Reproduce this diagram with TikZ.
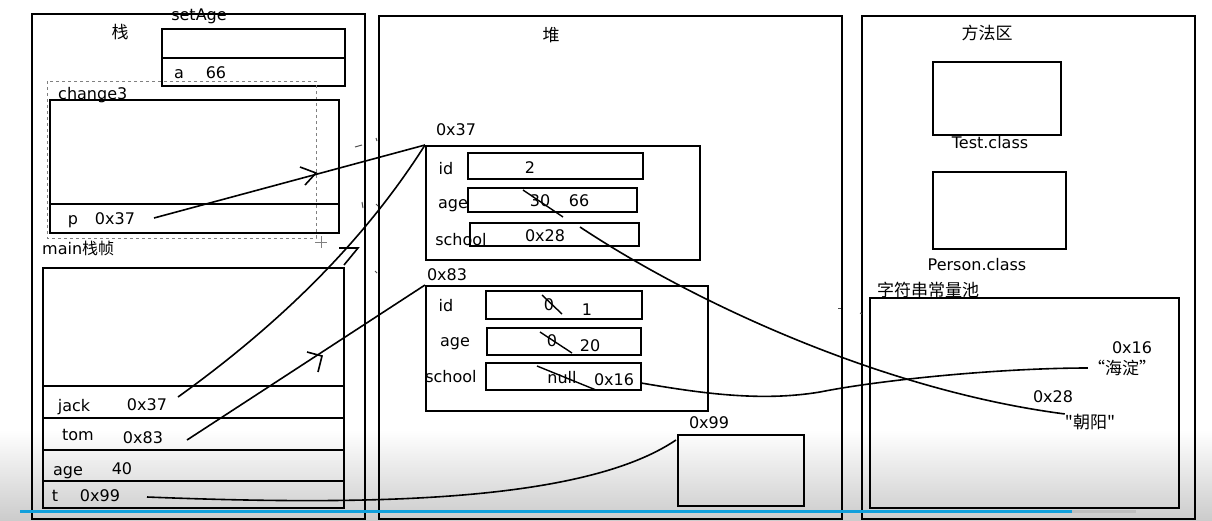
\documentclass[tikz,border=0pt]{standalone}
\usepackage{fontspec}
\setmainfont{DejaVu Sans}
\newfontfamily\cjk{Noto Sans CJK SC}
\usetikzlibrary{arrows.meta,calc}
\definecolor{progblue}{RGB}{18,160,220}
\begin{document}
\begin{tikzpicture}[x=1pt,y=-1pt,
  box/.style={draw, line width=1.8pt, inner sep=0pt, anchor=north west},
  txt/.style={inner sep=0pt, text height=11.5pt, text depth=0pt, font=\fontsize{16}{18}\selectfont},
  ctxt/.style={inner sep=0pt, font=\fontsize{17}{19}\selectfont\cjk},
  conn/.style={line width=1.6pt},
  strike/.style={line width=1.4pt},
  divider/.style={line width=1.5pt},
  tick/.style={line width=1pt, black!70}]
\useasboundingbox (0,0) rectangle (1212,520);
\shade[top color=white, bottom color=black!20] (0,430) rectangle (1212,520);

% ---- outer areas
\node[box, minimum width=333pt, minimum height=505pt] (stack) at (31,13) {};
\node[box, minimum width=463pt, minimum height=503pt] (heap) at (378,15) {};
\node[box, minimum width=333pt, minimum height=503pt] (method) at (861,15) {};

% ---- stack
\node[ctxt] (stackT) at (120,32) {栈};
\node[txt] (setAgeT) at (199,15) {setAge};
\node[box, minimum width=183pt, minimum height=57pt] (setAge) at (161,28) {};
\draw[divider] (161,58) -- (344,58);
\node[txt] (aN) at (179,73) {a};
\node[txt] (aV) at (216,73) {66};

\draw[gray, dashed, line width=0.8pt] (47,81) rectangle (316,238);
\draw[gray, line width=0.6pt] (315,242) -- (327,242) (321,236) -- (321,248);

\node[txt, anchor=west] (change3T) at (58,94) {change3};
\node[box, minimum width=289pt, minimum height=133pt] (change3) at (49,99) {};
\draw[divider] (49,204) -- (338,204);
\node[txt] (pN) at (73,219) {p};
\node[txt] (pV) at (115,219) {0x37};

\node[txt, anchor=west] (mainT) at (42,249) {main{\cjk 栈帧}};
\node[box, minimum width=301pt, minimum height=240pt] (main) at (42,267) {};
\foreach \yy in {386,418,450,481} \draw[divider] (42,\yy) -- (343,\yy);
\node[txt] (jackN) at (74,406) {jack};
\node[txt] (jackV) at (147,405) {0x37};
\node[txt] (tomN) at (78,435) {tom};
\node[txt] (tomV) at (143,438) {0x83};
\node[txt] (ageN) at (68,470) {age};
\node[txt] (ageV) at (122,469) {40};
\node[txt] (tN) at (55,496) {t};
\node[txt] (tV) at (100,496) {0x99};

% ---- heap
\node[ctxt] (heapT) at (551,35) {堆};
\node[txt] (o1T) at (456,130) {0x37};
\node[box, minimum width=274pt, minimum height=114pt] (obj1) at (425,145) {};
\node[box, minimum width=175pt, minimum height=26pt] (f1id) at (467,152) {};
\node[box, minimum width=169pt, minimum height=24pt] (f1age) at (467,187) {};
\node[box, minimum width=169pt, minimum height=23pt] (f1school) at (469,222) {};
\node[txt] (l1id) at (446,169) {id};
\node[txt] (l1age) at (453,203) {age};
\node[txt] (l1school) at (461,240) {school};
\node[txt] (v1id) at (530,168) {2};
\node[txt] (v1ageold) at (540,201) {30};
\node[txt] (v1age) at (579,201) {66};
\node[txt] (v1school) at (545,236) {0x28};
\draw[strike] (523,190) -- (563,217);

\node[txt] (o2T) at (447,275) {0x83};
\node[box, minimum width=282pt, minimum height=125pt] (obj2) at (425,285) {};
\node[box, minimum width=156pt, minimum height=28pt] (f2id) at (485,290) {};
\node[box, minimum width=154pt, minimum height=27pt] (f2age) at (486,327) {};
\node[box, minimum width=155pt, minimum height=27pt] (f2school) at (485,362) {};
\node[txt] (l2id) at (446,306) {id};
\node[txt] (l2age) at (455,341) {age};
\node[txt] (l2school) at (451,377) {school};
\node[txt] (v2idold) at (549,305) {0};
\node[txt] (v2id) at (587,310) {1};
\node[txt] (v2ageold) at (552,341) {0};
\node[txt] (v2age) at (590,346) {20};
\node[txt] (v2schoolold) at (562,378) {null};
\node[txt] (v2school) at (614,380) {0x16};
\draw[strike] (542,295) -- (562,314);
\draw[strike] (540,332) -- (572,353);
\draw[strike] (537,366) -- (596,390);

\node[txt] (o3T) at (709,423) {0x99};
\node[box, minimum width=126pt, minimum height=71pt] (obj3) at (677,434) {};

% ---- method area
\node[ctxt] (methodT) at (987,33) {方法区};
\node[box, minimum width=128pt, minimum height=73pt] (testC) at (932,61) {};
\node[txt] (testT) at (990,143) {Test.class};
\node[box, minimum width=133pt, minimum height=77pt] (personC) at (932,171) {};
\node[txt] (personT) at (977,265) {Person.class};
\node[ctxt] (poolT) at (928,290) {字符串常量池};
\node[box, minimum width=309pt, minimum height=210pt] (pool) at (869,297) {};
\node[txt] (hdA) at (1132,348) {0x16};
\node[ctxt] (hd) at (1122,368) {“海淀”};
\node[txt] (zyA) at (1053,397) {0x28};
\node[ctxt] (zy) at (1090,422) {"朝阳"};

% ---- connectors
\coordinate (pS) at (154,218);
\coordinate (jackS) at (178,397);
\coordinate (tomS) at (187,440);
\coordinate (tS) at (147,497);
\coordinate (tE) at (676,440);
\coordinate (s1S) at (580,227);
\coordinate (s2S) at (641,383);
\coordinate (s2M) at (820,392);

\draw[conn] (pS) -- (obj1.north west);
\draw[conn] (300,167) -- (316,173) -- (305,185);

\draw[conn] (jackS) .. controls (274,328) and (361,246) .. (obj1.north west);
\draw[conn] (339,248) -- (358,248) -- (344,265);

\draw[conn] (tomS) -- (obj2.north west);
\draw[conn] (307,352) -- (322,356) -- (318,372);

\draw[conn] (tS) .. controls (350,505) and (580,505) .. (tE);

\draw[conn] (s1S) .. controls (690,300) and (880,390) .. (zy.north west);

\draw[conn] (s2S) .. controls (700,393) and (760,402) .. (s2M)
  .. controls (880,380) and (1000,368) .. (hd.west);

% ---- small scribble marks
\draw[tick] (355,147) -- (362,145);
\draw[tick] (376,138) -- (377,141);
\draw[tick] (362,202) -- (363,208);
\draw[tick] (376,204) -- (378,206);
\draw[tick] (375,271) -- (377,273);
\draw[tick] (838,308) -- (841,308);
\draw[tick] (860,313) -- (862,314);

% ---- progress bar
\draw[line width=3pt, progblue] (20,511) -- (1072,511);
\draw[line width=3pt, black!25] (1072,511) -- (1136,511);
\end{tikzpicture}
\end{document}
